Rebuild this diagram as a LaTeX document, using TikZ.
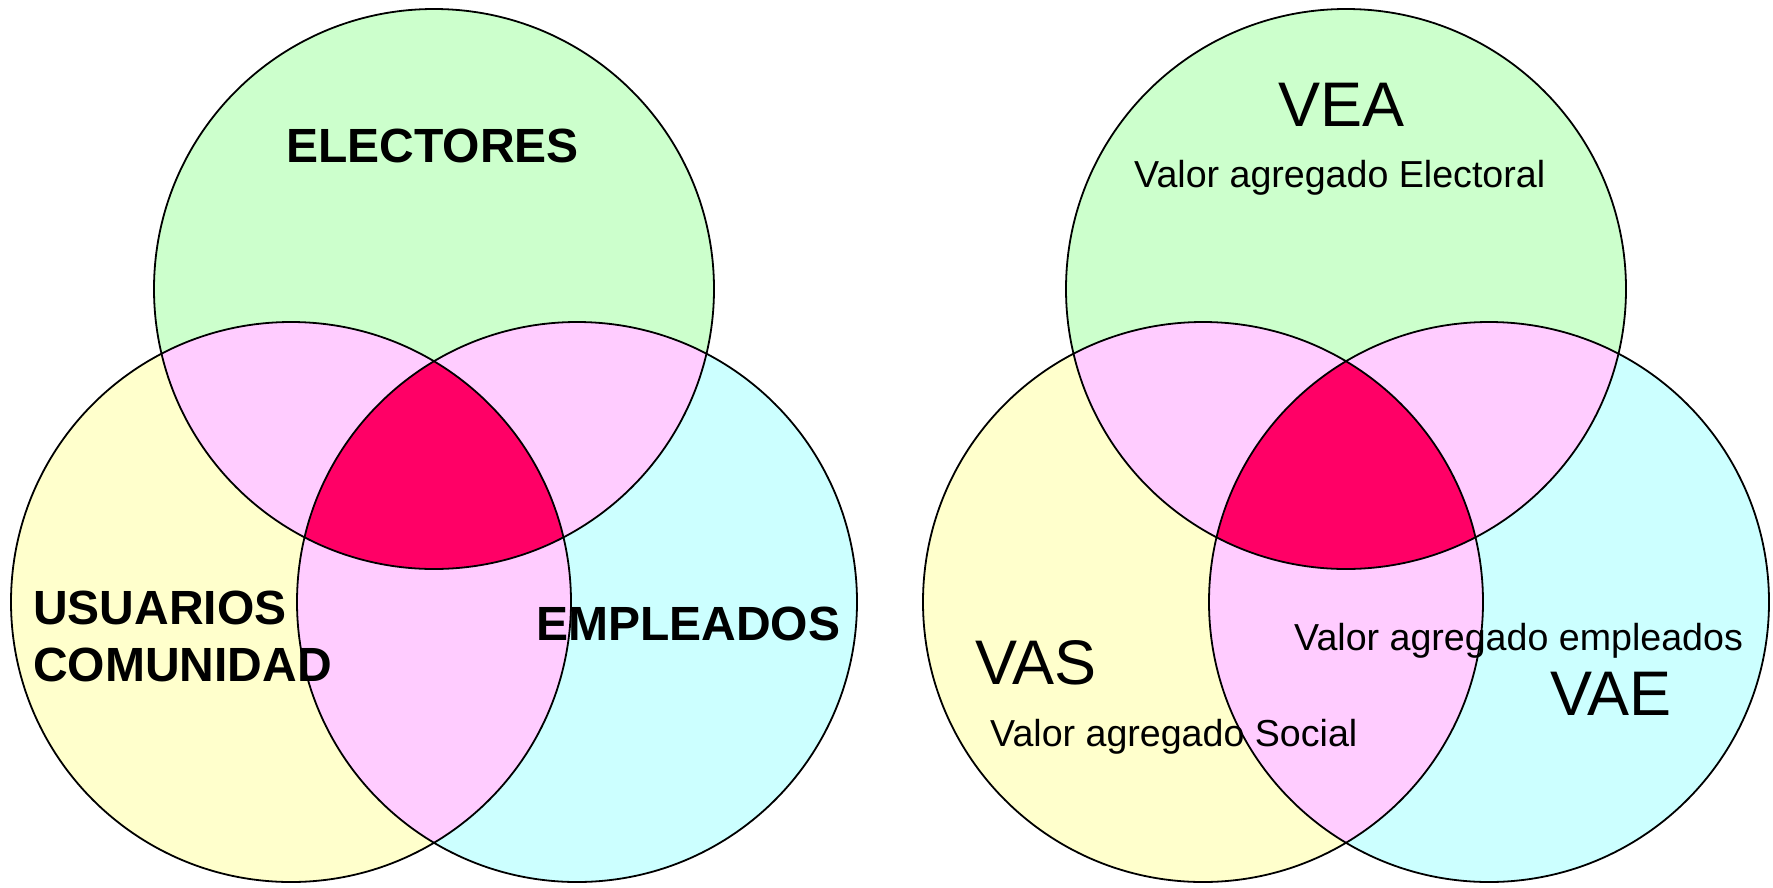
\documentclass[tikz,border=0pt]{standalone}
\usepackage{fontspec}
\setmainfont{Liberation Sans}
\definecolor{cgreen}{HTML}{CCFFCC}
\definecolor{cyellow}{HTML}{FFFFCC}
\definecolor{ccyan}{HTML}{CCFFFF}
\definecolor{cpink}{HTML}{FFCCFF}
\definecolor{cred}{HTML}{FF0066}
\begin{document}
\begin{tikzpicture}[x=1pt,y=-1pt,
  outline/.style={draw=black,line width=1.8pt},
  bigbold/.style={inner sep=0pt,anchor=base west,font=\fontsize{48}{56}\selectfont\bfseries},
  bigreg/.style={inner sep=0pt,anchor=base west,font=\fontsize{63}{70}\selectfont},
  smallreg/.style={inner sep=0pt,anchor=base west,font=\fontsize{37.6}{44}\selectfont}]
\useasboundingbox (0,0) rectangle (1773,887);
\def\R{280pt}
\foreach \ox/\n in {0/L,912/R}{
  \coordinate (T\n) at (434+\ox,289);
  \coordinate (A\n) at (291+\ox,602);
  \coordinate (B\n) at (577+\ox,602);
  \fill[cgreen] (T\n) circle[radius=\R];
  \fill[cyellow] (A\n) circle[radius=\R];
  \fill[ccyan] (B\n) circle[radius=\R];
  \begin{scope}
    \clip (T\n) circle[radius=\R];
    \fill[cpink] (A\n) circle[radius=\R];
    \fill[cpink] (B\n) circle[radius=\R];
  \end{scope}
  \begin{scope}
    \clip (A\n) circle[radius=\R];
    \fill[cpink] (B\n) circle[radius=\R];
  \end{scope}
  \begin{scope}
    \clip (T\n) circle[radius=\R];
    \clip (A\n) circle[radius=\R];
    \fill[cred] (B\n) circle[radius=\R];
  \end{scope}
  \draw[outline] (T\n) circle[radius=\R];
  \draw[outline] (A\n) circle[radius=\R];
  \draw[outline] (B\n) circle[radius=\R];
}
\node[bigbold] (electores) at (286,162) {ELECTORES};
\node[bigbold] (usuarios) at (33,624) {USUARIOS};
\node[bigbold] (comunidad) at (33,681) {COMUNIDAD};
\node[bigbold] (empleados) at (536,640) {EMPLEADOS};
\node[bigreg] (vea) at (1278,126) {VEA};
\node[smallreg] (vaelect) at (1134,187) {Valor agregado Electoral};
\node[bigreg] (vas) at (975,684) {VAS};
\node[smallreg] (vasoc) at (990,746) {Valor agregado Social};
\node[smallreg] (vaemp) at (1294,650) {Valor agregado empleados};
\node[bigreg] (vae) at (1550,715) {VAE};
\end{tikzpicture}
\end{document}
